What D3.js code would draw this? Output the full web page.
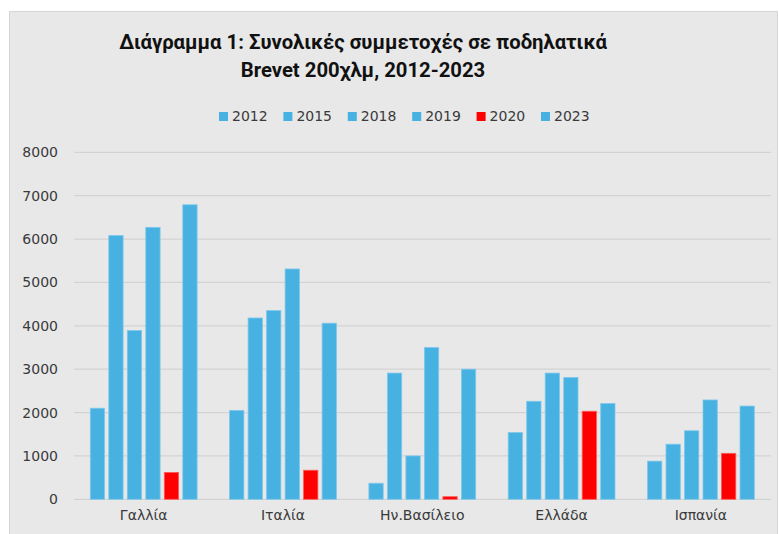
<!DOCTYPE html>
<html>
<head>
<meta charset="utf-8">
<style>
  body { margin: 0; background: #fff; }
  svg { display: block; }
</style>
</head>
<body>
<svg width="779" height="534"></svg>

<script src="https://cdn.jsdelivr.net/npm/d3@7"></script>
<script>

// data
var countries = ["Γαλλία", "Ιταλία", "Ην.Βασίλειο", "Ελλάδα", "Ισπανία"];
var years = ["2012", "2015", "2018", "2019", "2020", "2023"];
var v2012 = [2100, 2050, 370, 1540, 880];
var v2015 = [6080, 4180, 2910, 2260, 1270];
var v2018 = [3890, 4350, 1000, 2910, 1580];
var v2019 = [6270, 5310, 3500, 2810, 2290];
var v2020 = [620, 670, 60, 2030, 1060];
var v2023 = [6790, 4060, 3000, 2210, 2150];
var yTicks = [0, 1000, 2000, 3000, 4000, 5000, 6000, 7000, 8000];

var series = [v2012, v2015, v2018, v2019, v2020, v2023];
var data = countries.map(function(c, i) {
  var d = {name: c};
  years.forEach(function(y, j) { d[y] = series[j][i]; });
  return d;
});

var blue = "#47b1e1", red = "#ff0000";
function colorOf(year) { return year === "2020" ? red : blue; }

var svg = d3.select("svg");

// chart area
svg.append("rect")
    .attr("x", 9.5).attr("y", 11.5)
    .attr("width", 768).attr("height", 530)
    .attr("fill", "#e8e8e8")
    .attr("stroke", "#d6d6d6");

var x0 = d3.scaleBand()
    .domain(countries)
    .range([74, 770.5]);

var x1 = d3.scaleBand()
    .domain(years)
    .range([16.3, 123.1])
    .paddingInner(0.227);

var y = d3.scaleLinear()
    .domain([0, 8000])
    .range([499.3, 152.3]);

// grid
svg.append("g")
  .selectAll("line")
  .data(yTicks)
  .enter().append("line")
    .attr("x1", 74).attr("x2", 771)
    .attr("y1", function(d) { return y(d); })
    .attr("y2", function(d) { return y(d); })
    .attr("stroke", "#d3d3d3")
    .attr("stroke-width", 1.3);

// y axis labels
var yAxis = svg.append("g")
    .attr("transform", "translate(64,0)")
    .call(d3.axisLeft(y).tickValues(yTicks).tickFormat(d3.format("d")).tickSize(0).tickPadding(6));
yAxis.select(".domain").remove();
yAxis.selectAll("text")
    .attr("font-family", "DejaVu Sans")
    .attr("font-size", 14)
    .attr("fill", "#3a3a3a");

// bars
svg.append("g")
  .selectAll("g")
  .data(data)
  .enter().append("g")
    .attr("transform", function(d) { return "translate(" + x0(d.name) + ",0)"; })
  .selectAll("rect")
  .data(function(d) { return years.map(function(k) { return {key: k, value: d[k]}; }); })
  .enter().append("rect")
    .attr("x", function(d) { return x1(d.key); })
    .attr("y", function(d) { return y(d.value); })
    .attr("width", x1.bandwidth())
    .attr("height", function(d) { return y(0) - y(d.value); })
    .attr("fill", function(d) { return colorOf(d.key); })
    .attr("stroke", function(d) { return d.key === "2020" ? "#ff5a5a" : "#7fc8ec"; })
    .attr("stroke-width", 0.8);

// x axis labels
var xAxis = svg.append("g")
    .attr("transform", "translate(0,499)")
    .call(d3.axisBottom(x0).tickSize(0).tickPadding(11));
xAxis.select(".domain").remove();
xAxis.selectAll("text")
    .attr("font-family", "DejaVu Sans")
    .attr("font-size", 14)
    .attr("fill", "#3a3a3a");

// title
var title = svg.append("text")
    .attr("font-family", "Roboto")
    .attr("font-weight", "bold")
    .attr("font-size", 20.3)
    .attr("fill", "#111")
    .attr("text-anchor", "middle");
title.append("tspan").attr("x", 363).attr("y", 49)
    .text("Διάγραμμα 1: Συνολικές συμμετοχές σε ποδηλατικά");
title.append("tspan").attr("x", 363).attr("y", 77)
    .text("Brevet 200χλμ, 2012-2023");

// legend
var legend = svg.append("g")
    .attr("font-family", "DejaVu Sans")
    .attr("font-size", 14)
    .attr("fill", "#3a3a3a")
  .selectAll("g")
  .data(years)
  .enter().append("g")
    .attr("transform", function(d, i) { return "translate(" + (219 + i * 64.4) + ",0)"; });

legend.append("rect")
    .attr("y", 112)
    .attr("width", 9)
    .attr("height", 9)
    .attr("fill", colorOf);

legend.append("text")
    .attr("x", 13)
    .attr("y", 121)
    .text(function(d) { return d; });

</script>
</body>
</html>
